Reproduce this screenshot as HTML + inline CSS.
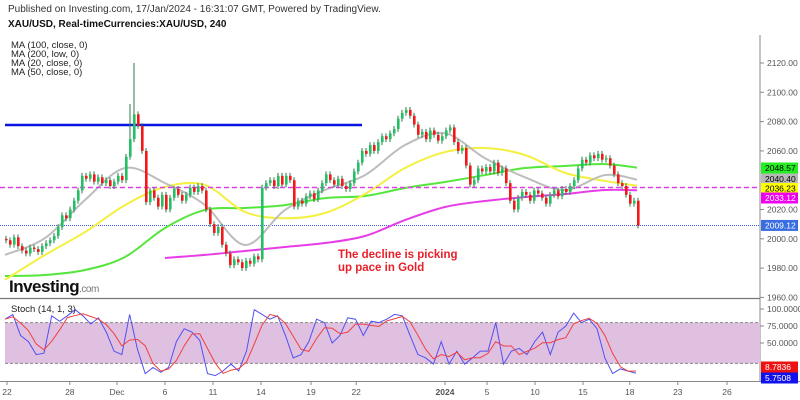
<!DOCTYPE html>
<html><head><meta charset="utf-8"><style>
body{margin:0;background:#fff;}
svg{display:block;font-family:"Liberation Sans",sans-serif;}
</style></head><body>
<svg id="c" width="800" height="400" viewBox="0 0 800 400">
<text x="8" y="12" font-size="10" fill="#333">Published on Investing.com, 17/Jan/2024 - 16:31:07 GMT, Powered by TradingView.</text>
<text x="8" y="27" font-size="10" font-weight="bold" fill="#111">XAU/USD, Real-timeCurrencies:XAU/USD, 240</text>
<g font-size="9.5" fill="#222">
<text x="11" y="48">MA (100, close, 0)</text><text x="11" y="57">MA (200, low, 0)</text>
<text x="11" y="66">MA (20, close, 0)</text><text x="11" y="75">MA (50, close, 0)</text></g>
<g id="grid"></g><g id="marks"></g>
<text x="338" y="258" font-size="11.5" font-weight="bold" fill="#e8202a">The decline is picking</text>
<text x="338" y="271" font-size="11.5" font-weight="bold" fill="#e8202a">up pace in Gold</text>
<text x="9" y="292" font-size="17" font-weight="bold" fill="#111" letter-spacing="-0.5">Investing<tspan font-size="10" font-weight="normal" fill="#777">.com</tspan></text>
<text x="11" y="312" font-size="9.5" fill="#222">Stoch (14, 1, 3)</text>
</svg>
<script>
const closes=[1999,1996,2001,1995,1992,1990,1994,1993,1991,1995,
1997,1999,2002,2008,2016,2014,2020,2026,2033,2043,
2041,2044,2039,2042,2038,2040,2036,2039,2043,2040,
2056,2068,2085,2077,2060,2025,2033,2028,2022,2030,
2020,2028,2034,2030,2026,2030,2035,2032,2036,2033,
2020,2010,2004,2008,1996,1990,1982,1986,1984,1980,
1985,1983,1988,1986,2035,2038,2040,2036,2043,2037,
2043,2040,2022,2026,2024,2029,2031,2027,2033,2038,
2044,2040,2037,2041,2036,2034,2038,2046,2052,2060,
2058,2064,2060,2066,2070,2068,2072,2075,2082,2086,
2088,2084,2078,2071,2073,2068,2074,2071,2067,2070,
2074,2076,2066,2060,2062,2050,2037,2040,2048,2046,
2049,2046,2052,2045,2048,2038,2026,2020,2028,2032,
2030,2026,2033,2031,2028,2024,2030,2033,2029,2034,
2032,2036,2040,2048,2054,2052,2057,2055,2058,2054,
2055,2050,2044,2038,2036,2030,2024,2026,2009];
const firstOpen=2000;
const extraHighs={32:2120,31:2092};
const maIdx=[0,10,20,30,40,50,60,70,80,90,100,110,120,130,140,150,158];
const ma20=[1989,2000.5,2026.5,2048.3,2038,2023,1995.8,2019.7,2033.3,2043.5,2064,2072,2055,2042,2033.3,2043.5,2040.4];
const ma50=[1972,1989,2004.6,2023,2035.4,2036.7,2018.3,2014,2017.6,2030.6,2048.3,2059.2,2062,2057.2,2045,2039.5,2036.23];
const ma100=[1974.6,1975.3,1978.7,1987.6,2007.4,2019.7,2021,2023,2027.8,2029.2,2034.7,2038.8,2043.5,2048.3,2049.7,2051,2048.57];
const ma200Idx=[40,50,60,70,80,90,100,110,120,130,140,150,158];
const ma200=[1986.9,1989,1991.7,1994.4,1997.1,2001.9,2012.8,2021.7,2025.8,2028.5,2030.6,2033.3,2033.12];
const priceTicks=[1960,1980,2000,2020,2060,2080,2100,2120];
const stochK=[85,92,61,52,33,35,90,82,90,99,90,78,87,66,38,33,92,41,5,14,7,14,52,71,66,54,5,2,9,19,9,38,99,92,85,90,61,28,33,52,85,80,50,61,87,85,61,82,80,85,92,90,61,33,28,19,52,19,38,19,28,38,38,80,19,38,42,33,52,66,33,66,75,94,80,85,71,28,5,12,8.6,5.7508];
const stochTicks=[100,75,50];
const dateLabels=["22","28","Dec","6","11","14","19","22","2024","5","10","15","18","23","26"];
const dateIdx=[0.5,16.2,28,40,52,64,76.5,87.8,110,120.5,132.5,144.5,156.2,168.2,180.5];
const levels={resistance:2077.7,support:2035,last:2009.12};

const NS="http://www.w3.org/2000/svg";
const X=i=>5+i*4;
const Y=p=>63+(2120-p)*1.465;
const SY=v=>377-v*0.68;
const grid=document.getElementById('grid'),marks=document.getElementById('marks');
function mk(tag,at,parent){const e=document.createElementNS(NS,tag);for(const k in at)e.setAttribute(k,at[k]);(parent||marks).appendChild(e);return e;}

let e;
e=mk('line',{x1:760,y1:35,x2:760,y2:381,stroke:'#888','stroke-width':1},grid);


e=mk('line',{x1:0,y1:298.5,x2:760,y2:298.5,stroke:'#777','stroke-width':1.2},grid);


e=mk('line',{x1:0,y1:381.5,x2:800,y2:381.5,stroke:'#888','stroke-width':1},grid);


priceTicks.forEach(p=>{
 mk('line',{x1:760,x2:764,y1:Y(p),y2:Y(p),stroke:'#888'},grid);
 e=mk('text',{x:767,y:Y(p)+3,'font-size':8.5,fill:'#555'},grid);e.textContent=p.toFixed(2);
 
 
});
e=mk('rect',{x:5,y:SY(80),width:755,height:SY(20)-SY(80),fill:'#dfc0e0'},grid);


[80,20].forEach(v=>{e=mk('line',{x1:5,x2:760,y1:SY(v),y2:SY(v),stroke:'#888','stroke-dasharray':'3,2'},grid);
 
 });
stochTicks.forEach(v=>{mk('line',{x1:760,x2:764,y1:SY(v),y2:SY(v),stroke:'#888'},grid);
 e=mk('text',{x:767,y:SY(v)+3,'font-size':8.5,fill:'#555'},grid);e.textContent=v.toFixed(4);
 
 });
dateLabels.forEach((d,k)=>{const x=X(dateIdx[k]);
 mk('line',{x1:x,x2:x,y1:381,y2:385,stroke:'#888'},grid);
 e=mk('text',{x:x,y:395,'font-size':8.5,fill:'#555','text-anchor':'middle','font-weight':d==='2024'?'bold':'normal'},grid);e.textContent=d;
 
 });

e=mk('line',{x1:5,x2:362,y1:Y(levels.resistance),y2:Y(levels.resistance),stroke:'#0a14e0','stroke-width':2.5});


e=mk('line',{x1:0,x2:760,y1:Y(levels.last),y2:Y(levels.last),stroke:'#4060e0','stroke-width':1,'stroke-dasharray':'1,1'});



function smooth(pts){let d='M'+pts[0][0]+','+pts[0][1];
 for(let i=0;i<pts.length-1;i++){const p0=pts[i-1]||pts[i],p1=pts[i],p2=pts[i+1],p3=pts[i+2]||p2;
  d+=' C'+(p1[0]+(p2[0]-p0[0])/6)+','+(p1[1]+(p2[1]-p0[1])/6)+' '+(p2[0]-(p3[0]-p1[0])/6)+','+(p2[1]-(p3[1]-p1[1])/6)+' '+p2[0]+','+p2[1];}
 return d;}
function maLine(idx,vals,col,name){e=mk('path',{d:smooth(idx.map((i,k)=>[X(i),Y(vals[k])])),fill:'none',stroke:col,'stroke-width':2});
 
 }
maLine(maIdx,ma100,'#55e63c','ma100-line');
maLine(ma200Idx,ma200,'#e83ce8','ma200-line');
maLine(maIdx,ma50,'#f4f040','ma50-line');
maLine(maIdx,ma20,'#bdbdbd','ma20-line');
e=mk('line',{x1:0,x2:760,y1:Y(levels.support),y2:Y(levels.support),stroke:'#e040e8','stroke-width':1.5,'stroke-dasharray':'5,3'});



closes.forEach((c,i)=>{const o=i?closes[i-1]:firstOpen;const up=c>=o;
 const hi=Math.max(extraHighs[i]||0,Math.max(o,c)+2),lo=Math.min(o,c)-2;const x=X(i);
 e=mk('line',{x1:x+1,x2:x+1,y1:Y(hi),y2:Y(lo),stroke:'#2d7a4a','stroke-width':1});
 
 
 e=mk('rect',{x:x,y:Y(Math.max(o,c)),width:2.6,height:Math.max(1,Math.abs(Y(o)-Y(c))),fill:up?'#22c064':'#f01818'});
 
 
});

const stochD=stochK.map((v,i)=>{const a=stochK.slice(Math.max(0,i-2),i+1);return a.reduce((s,t)=>s+t,0)/a.length;});
const sx=i=>5+i*(631/(stochK.length-1));
e=mk('polyline',{points:stochK.map((v,i)=>sx(i)+','+SY(v)).join(' '),fill:'none',stroke:'#5050f0','stroke-width':1});


e=mk('polyline',{points:stochD.map((v,i)=>sx(i)+','+SY(v)).join(' '),fill:'none',stroke:'#f04040','stroke-width':1});



function tag(y,val,bg,fg,name){e=mk('rect',{x:761,y:y-5.5,width:37,height:11,fill:bg});
 
 
 e=mk('text',{x:765,y:y+3,'font-size':8.5,fill:fg});e.textContent=val;
 
 }
tag(168,ma100[ma100.length-1].toFixed(2),'#22ee22','#000','ma100-value');
tag(179,ma20[ma20.length-1].toFixed(2),'#b8b8b8','#000','ma20-value');
tag(188.5,ma50[ma50.length-1].toFixed(2),'#ffff00','#000','ma50-value');
tag(198,ma200[ma200.length-1].toFixed(2),'#ee00ee','#fff','ma200-value');
tag(Y(levels.last),levels.last.toFixed(2),'#3a6ee0','#fff','last-price-value');
tag(367,stochD[stochD.length-1].toFixed(4),'#ee1111','#fff','stoch-d-value');
tag(378,stochK[stochK.length-1].toFixed(4),'#1111ee','#fff','stoch-k-value');
</script>
</body></html>
